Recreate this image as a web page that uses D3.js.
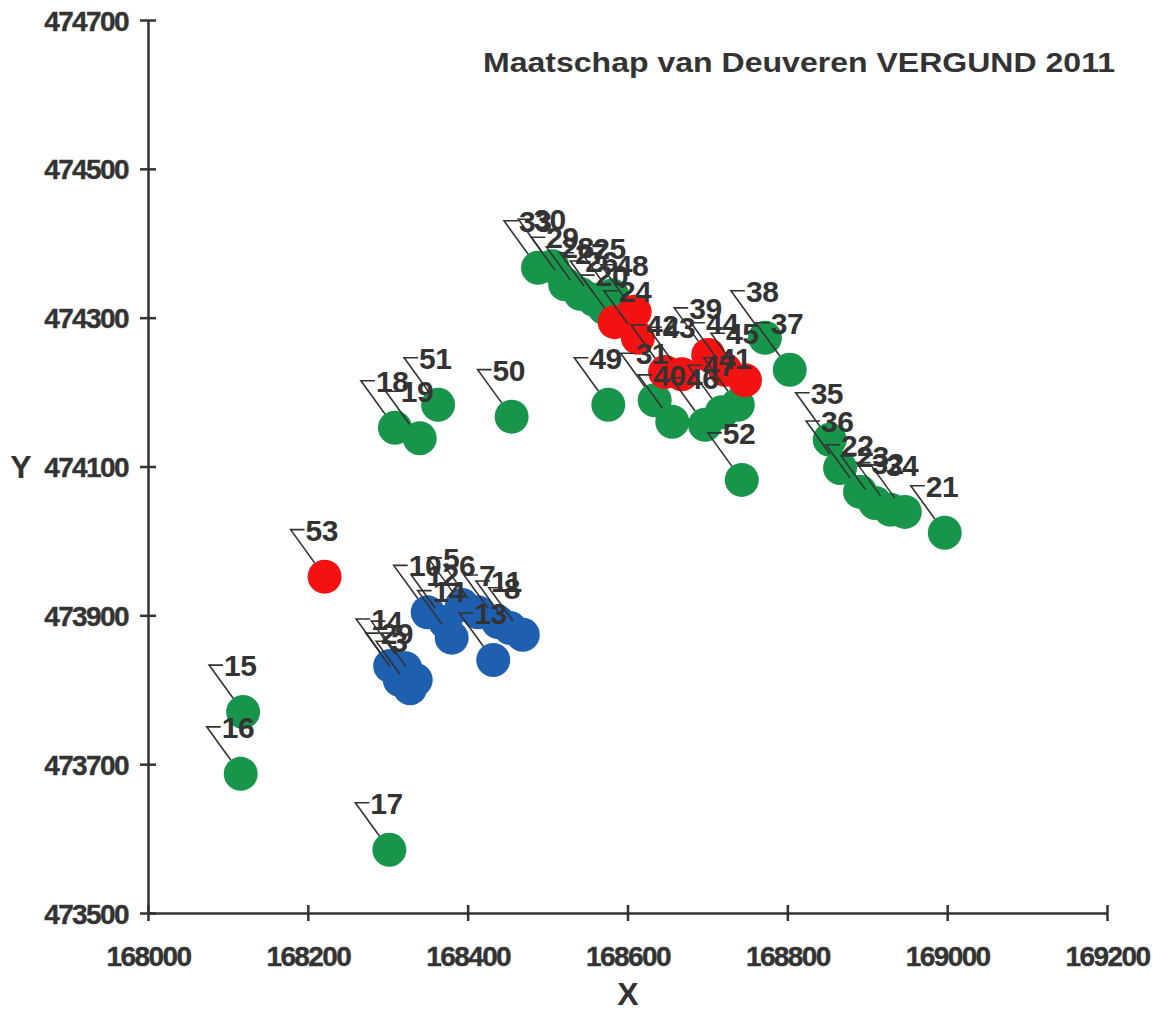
<!DOCTYPE html>
<html>
<head>
<meta charset="utf-8">
<script src="https://cdn.jsdelivr.net/npm/d3@7/dist/d3.min.js"></script>
<style>
  body { margin: 0; background: #fff; }
  svg { display: block; }
  text { font-family: "Liberation Sans", Arial, sans-serif; font-weight: bold; fill: #333; }
</style>
</head>
<body>
<svg id="chart"></svg>
<script>
// parcels: [number, X, Y]
const blueParcels = [
    [1, 168303, 473832], [2, 168315, 473813], [3, 168328, 473802], [4, 168322, 473829],
    [9, 168335, 473813], [10, 168350, 473904], [12, 168372, 473891], [14, 168380, 473870],
    [5, 168393, 473914], [6, 168413, 473904], [7, 168438, 473891], [11, 168453, 473883],
    [8, 168469, 473874], [13, 168432, 473840]
];

const greenParcels = [
    [15, 168119, 473770], [16, 168116, 473687], [17, 168302, 473585],
    [18, 168309, 474152], [19, 168340, 474138], [51, 168363, 474183], [50, 168455, 474167],
    [49, 168576, 474183], [52, 168743, 474082],
    [33, 168488, 474367], [30, 168506, 474369], [29, 168522, 474345], [28, 168541, 474332],
    [27, 168558, 474324], [26, 168571, 474313], [25, 168581, 474330],
    [31, 168634, 474189], [40, 168656, 474160], [46, 168697, 474156], [47, 168718, 474173],
    [41, 168738, 474183],
    [38, 168772, 474273], [37, 168803, 474230], [35, 168853, 474136], [36, 168866, 474098],
    [22, 168891, 474066], [23, 168910, 474051], [32, 168929, 474042], [34, 168947, 474039],
    [21, 168997, 474011]
];

const redParcels = [
    [20, 168584, 474294], [48, 168609, 474308], [24, 168613, 474273],
    [42, 168647, 474227], [43, 168668, 474224], [39, 168701, 474250],
    [44, 168722, 474230], [45, 168747, 474216], [53, 168221, 473952]
];

const xTicks = [168000, 168200, 168400, 168600, 168800, 169000, 169200];
const yTicks = [473500, 473700, 473900, 474100, 474300, 474500, 474700];

const title = "Maatschap van Deuveren VERGUND 2011";

const series = [
    { name: "groen", color: "#17964b", points: greenParcels },
    { name: "blauw", color: "#1f5fb0", points: blueParcels },
    { name: "rood", color: "#f21212", points: redParcels }
];

const W = 1155, H = 1013;
const svg = d3.select("#chart").attr("width", W).attr("height", H);

const x = d3.scaleLinear().domain([168000, 169200]).range([148, 1107]);
const y = d3.scaleLinear().domain([473500, 474700]).range([913, 20]);

// axes
const xAxis = svg.append("g")
    .attr("transform", `translate(0,${y(473500)})`)
    .call(d3.axisBottom(x).tickValues(xTicks).tickFormat(d3.format("d")).tickSize(0).tickPadding(33));
const yAxis = svg.append("g")
    .attr("transform", `translate(${x(168000)},0)`)
    .call(d3.axisLeft(y).tickValues(yTicks).tickFormat(d3.format("d")).tickSize(0).tickPadding(20));

[xAxis, yAxis].forEach(a => {
    a.select(".domain").attr("stroke", "#333").attr("stroke-width", 2.5);
    a.selectAll("text")
        .attr("fill", "#3a3a3a")
        .attr("stroke", "#3a3a3a")
        .attr("stroke-width", 0.4)
        .attr("font-size", 28)
        .attr("letter-spacing", "-1.6px")
        .attr("font-family", "Liberation Sans, Arial, sans-serif")
        .attr("font-weight", "bold");
});

// crossing tick marks
xAxis.selectAll(".tick").append("line")
    .attr("y1", -8).attr("y2", 8)
    .attr("stroke", "#333").attr("stroke-width", 2.5);
yAxis.selectAll(".tick").append("line")
    .attr("x1", -8).attr("x2", 8)
    .attr("stroke", "#333").attr("stroke-width", 2.5);
yAxis.selectAll(".tick text").attr("dy", "0.36em");

// points
series.forEach(s => {
    svg.append("g")
        .selectAll("circle")
        .data(s.points)
        .join("circle")
            .attr("cx", d => x(d[1]))
            .attr("cy", d => y(d[2]))
            .attr("r", 17)
            .attr("fill", s.color);
});

// labels with leader lines
const allPoints = series.flatMap(s => s.points);
const r = 17, dx = 34, dy = 47;
const len = Math.hypot(dx, dy);

const labels = svg.append("g")
    .selectAll("g")
    .data(allPoints)
    .join("g")
        .attr("transform", d => `translate(${x(d[1])},${y(d[2])})`);

labels.append("path")
    .attr("d", `M${-r * dx / len},${-r * dy / len} L${-dx},${-dy} L${-20},${-dy}`)
    .attr("fill", "none")
    .attr("stroke", "#333")
    .attr("stroke-width", 1.6);

labels.append("text")
    .attr("x", -19)
    .attr("y", -dy + 11)
    .attr("font-size", 30)
    .attr("letter-spacing", "-0.5px")
    .text(d => d[0]);

// titles
svg.append("text")
    .attr("x", 483).attr("y", 72)
    .attr("font-size", 28)
    .attr("textLength", 632)
    .attr("lengthAdjust", "spacingAndGlyphs")
    .text(title);

svg.append("text")
    .attr("x", 628).attr("y", 1005)
    .attr("text-anchor", "middle")
    .attr("font-size", 32)
    .text("X");

svg.append("text")
    .attr("x", 21).attr("y", 478)
    .attr("text-anchor", "middle")
    .attr("font-size", 32)
    .text("Y");
</script>
</body>
</html>
